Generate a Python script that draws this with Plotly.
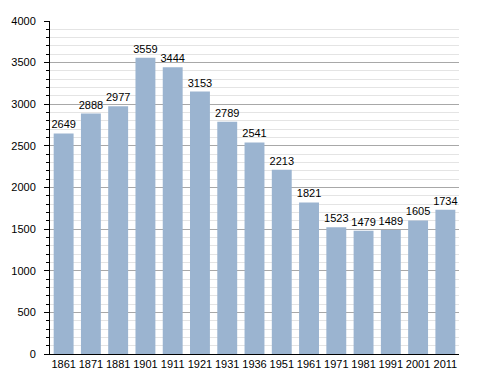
import plotly.graph_objects as go

years = ["1861", "1871", "1881", "1901", "1911", "1921", "1931", "1936", "1951", "1961", "1971", "1981", "1991", "2001", "2011"]
population = [2649, 2888, 2977, 3559, 3444, 3153, 2789, 2541, 2213, 1821, 1523, 1479, 1489, 1605, 1734]
y_ticks = [0, 500, 1000, 1500, 2000, 2500, 3000, 3500, 4000]

fig = go.Figure(go.Bar(
    x=years, y=population,
    text=[str(v) for v in population],
    textposition="outside",
    textfont=dict(family="Liberation Sans, Arial", size=11, color="black"),
    constraintext="none",
    cliponaxis=False,
    marker=dict(color="rgb(155,180,208)", line=dict(width=0)),
))

# page body has an 8px margin, so the figure is sized to fit the 488x373 window
fig.update_layout(
    width=480, height=365,
    margin=dict(l=42, r=29, t=13, b=19, autoexpand=False),
    paper_bgcolor="white", plot_bgcolor="white",
    showlegend=False,
    font=dict(family="Liberation Sans, Arial", size=11, color="black"),
    bargap=0.27,
)
fig.update_yaxes(
    range=[0, 4000], automargin=False,
    tickvals=y_ticks, ticktext=[str(t) for t in y_ticks],
    showgrid=True, gridcolor="#a8a8a8", gridwidth=1,
    showline=True, linecolor="black", linewidth=1,
    ticks="outside", ticklen=5, tickcolor="black",
    minor=dict(dtick=100, showgrid=True, gridcolor="#e4e4e4", ticks="outside", ticklen=3, tickcolor="black"),
    zeroline=False,
    ticklabelstandoff=6,
)
fig.update_xaxes(
    automargin=False,
    showline=True, linecolor="black", linewidth=1,
    ticks="", showgrid=False,
    tickfont=dict(size=11),
)

fig.write_html("out.html")
